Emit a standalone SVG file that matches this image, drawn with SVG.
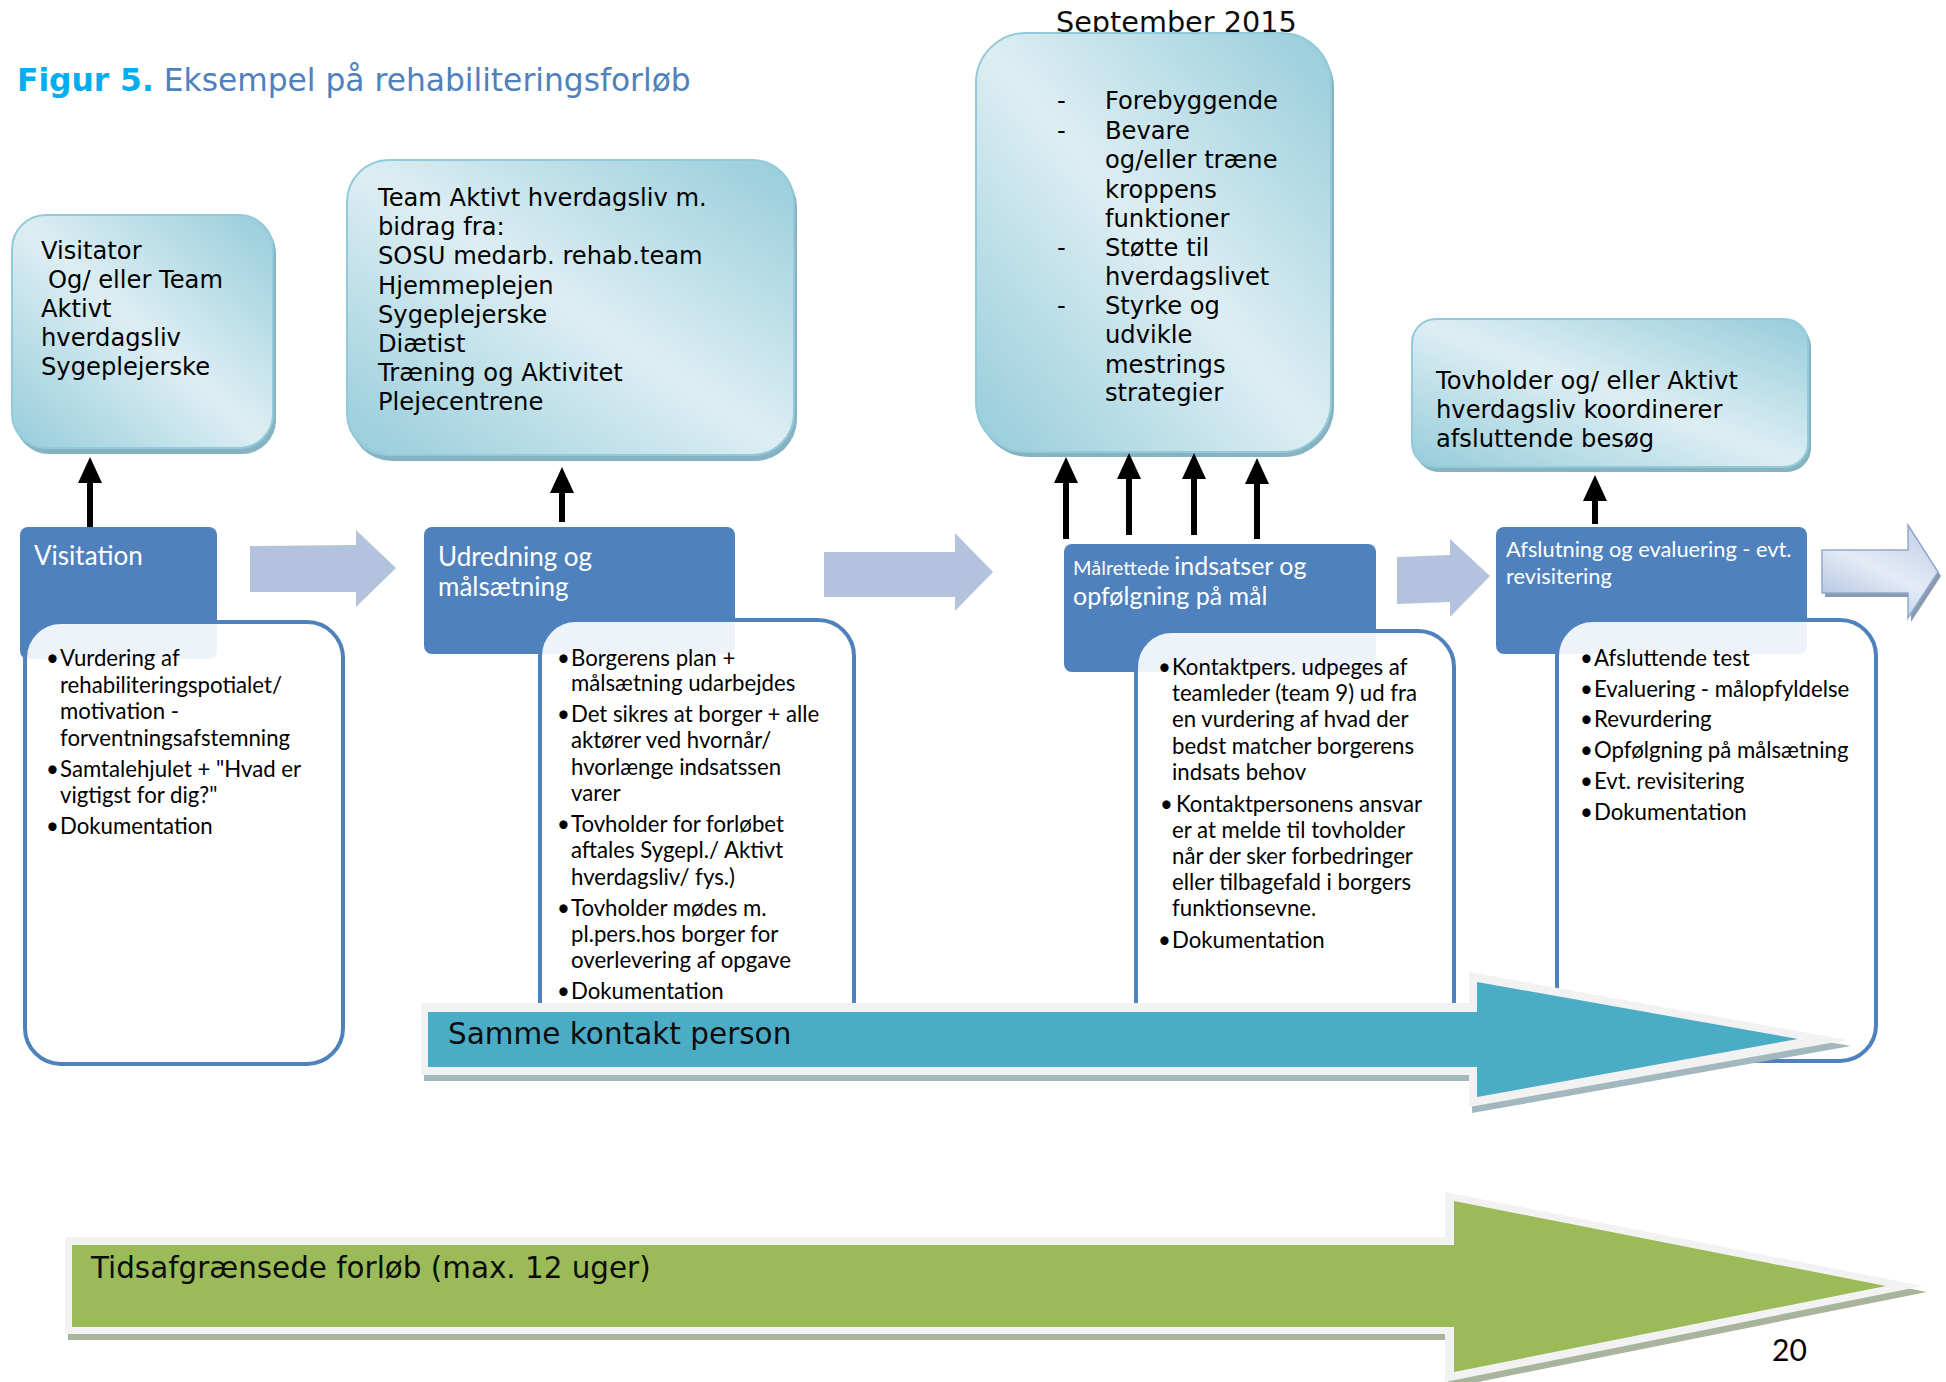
<svg xmlns="http://www.w3.org/2000/svg" width="1946" height="1382" viewBox="0 0 1946 1382">
<defs>
<style>
.callout{fill:url(#cg);stroke:#93CADA;stroke-width:2}
.cshadow{fill:#86B2C1}
.ct{font-family:"DejaVu Sans",Verdana,sans-serif;font-size:24.2px;fill:#000}
.hdr{fill:#4F81BD}
.ht{font-family:Lato,"Liberation Sans",sans-serif;font-size:26px;fill:#fff}
.box{fill:#fff;fill-opacity:.9;stroke:#4F81BD;stroke-width:4}
.bt{font-family:Lato,"Liberation Sans",sans-serif;font-size:22.2px;fill:#000}
.larr{fill:#B3C3DE}
.up{stroke:#000;stroke-width:6;fill:none;marker-end:url(#ah)}
.big{font-family:"DejaVu Sans",Verdana,sans-serif;fill:#0D0D0D}
</style>
<linearGradient id="cg" x1="1" y1="0" x2="0" y2="1">
<stop offset="0" stop-color="#96CCDB"/>
<stop offset="0.5" stop-color="#DDEEF3"/>
<stop offset="1" stop-color="#96CCDB"/>
</linearGradient>
<linearGradient id="ag" x1="0" y1="1" x2="0.6" y2="0">
<stop offset="0" stop-color="#A2B9DC"/>
<stop offset="0.6" stop-color="#E4EBF5"/>
<stop offset="1" stop-color="#C9D6EA"/>
</linearGradient>
<marker id="ah" markerUnits="userSpaceOnUse" viewBox="0 0 26 24" markerWidth="26" markerHeight="24" refX="10" refY="12" orient="auto">
<path d="M0,0 L26,12 L0,24 z" fill="#000"/>
</marker>
</defs>

<text x="17" y="91" font-family="'DejaVu Sans',Verdana,sans-serif" font-size="31.3"><tspan font-weight="bold" fill="#00AEEF">Figur 5.</tspan><tspan fill="#4F81BD"> Eksempel på rehabiliteringsforløb</tspan></text>

<text x="1056" y="32" class="big" font-size="28.7">September 2015</text>

<g id="visitator">
<rect class="cshadow" x="15" y="219" width="261" height="235" rx="34"/>
<rect class="callout" x="12" y="215" width="261" height="233" rx="34"/>
<text class="ct"><tspan x="41" y="259">Visitator</tspan><tspan x="48" y="288">Og/ eller Team</tspan><tspan x="41" y="317">Aktivt</tspan><tspan x="41" y="346">hverdagsliv</tspan><tspan x="41" y="375">Sygeplejerske</tspan></text>
</g>

<g id="team">
<rect class="cshadow" x="350" y="165" width="447" height="296" rx="42"/>
<rect class="callout" x="347" y="160" width="447" height="295" rx="42"/>
<text class="ct"><tspan x="378" y="206">Team Aktivt hverdagsliv m.</tspan><tspan x="378" y="235">bidrag fra:</tspan><tspan x="378" y="264">SOSU medarb. rehab.team</tspan><tspan x="378" y="294">Hjemmeplejen</tspan><tspan x="378" y="323">Sygeplejerske</tspan><tspan x="378" y="352">Diætist</tspan><tspan x="378" y="381">Træning og Aktivitet</tspan><tspan x="378" y="410">Plejecentrene</tspan></text>
</g>

<g id="indsats-maal">
<rect class="cshadow" x="979" y="38" width="355" height="419" rx="50"/>
<rect class="callout" x="976" y="33" width="355" height="419" rx="50"/>
<text class="ct"><tspan x="1057" y="109">-</tspan><tspan x="1105" y="109">Forebyggende</tspan><tspan x="1057" y="139">-</tspan><tspan x="1105" y="139">Bevare</tspan><tspan x="1105" y="168">og/eller træne</tspan><tspan x="1105" y="198">kroppens</tspan><tspan x="1105" y="227">funktioner</tspan><tspan x="1057" y="256">-</tspan><tspan x="1105" y="256">Støtte til</tspan><tspan x="1105" y="285">hverdagslivet</tspan><tspan x="1057" y="314">-</tspan><tspan x="1105" y="314">Styrke og</tspan><tspan x="1105" y="343">udvikle</tspan><tspan x="1105" y="373">mestrings</tspan><tspan x="1105" y="401">strategier</tspan></text>
</g>

<g id="tovholder">
<rect class="cshadow" x="1415" y="323" width="396" height="149" rx="24"/>
<rect class="callout" x="1412" y="319" width="396" height="148" rx="24"/>
<text class="ct"><tspan x="1436" y="389">Tovholder og/ eller Aktivt</tspan><tspan x="1436" y="418">hverdagsliv koordinerer</tspan><tspan x="1436" y="447">afsluttende besøg</tspan></text>
</g>

<g id="connectors">
<line class="up" x1="90" y1="527" x2="90" y2="473"/>
<line class="up" x1="562" y1="522" x2="562" y2="483"/>
<line class="up" x1="1066" y1="539" x2="1066" y2="473"/>
<line class="up" x1="1129" y1="535" x2="1129" y2="469"/>
<line class="up" x1="1194" y1="535" x2="1194" y2="469"/>
<line class="up" x1="1257" y1="539" x2="1257" y2="474"/>
<line class="up" x1="1595" y1="524" x2="1595" y2="491"/>
<polygon class="larr" points="250,546 356,545 356,530 396,568 356,607 356,592 250,592"/>
<polygon class="larr" points="824,552 955,552 955,533 993,572 955,611 955,597 824,597"/>
<polygon class="larr" points="1397,557 1450,555 1450,539 1490,576 1450,617 1450,602 1397,604"/>
<polygon fill="#8C9AAE" points="1825,554 1911,554 1911,529 1941,576 1911,622 1911,597 1825,597"/>
<polygon fill="url(#ag)" stroke="#8EA9D4" stroke-width="1.5" points="1822,550 1908,550 1908,525 1938,572 1908,618 1908,593 1822,593"/>
</g>

<g id="visitation">
<rect class="hdr" x="20" y="527" width="197" height="132" rx="8"/>
<text class="ht" x="34" y="565">Visitation</text>
<rect class="box" x="25" y="622" width="318" height="442" rx="36"/>
<text class="bt"><tspan x="46" y="666">•</tspan><tspan x="60" y="666">Vurdering af</tspan><tspan x="60" y="693">rehabiliteringspotialet/</tspan><tspan x="60" y="719">motivation -</tspan><tspan x="60" y="746">forventningsafstemning</tspan><tspan x="46" y="777">•</tspan><tspan x="60" y="777">Samtalehjulet + "Hvad er</tspan><tspan x="60" y="803">vigtigst for dig?"</tspan><tspan x="46" y="834">•</tspan><tspan x="60" y="834">Dokumentation</tspan></text>
</g>

<g id="udredning">
<rect class="hdr" x="424" y="527" width="311" height="127" rx="8"/>
<text class="ht"><tspan x="438" y="566">Udredning og</tspan><tspan x="438" y="596">målsætning</tspan></text>
<rect class="box" x="540" y="620" width="314" height="440" rx="36"/>
<text class="bt"><tspan x="557" y="666">•</tspan><tspan x="571" y="666">Borgerens plan +</tspan><tspan x="571" y="691">målsætning udarbejdes</tspan><tspan x="557" y="722">•</tspan><tspan x="571" y="722">Det sikres at borger + alle</tspan><tspan x="571" y="748">aktører ved hvornår/</tspan><tspan x="571" y="775">hvorlænge indsatssen</tspan><tspan x="571" y="801">varer</tspan><tspan x="557" y="832">•</tspan><tspan x="571" y="832">Tovholder for forløbet</tspan><tspan x="571" y="858">aftales Sygepl./ Aktivt</tspan><tspan x="571" y="885">hverdagsliv/ fys.)</tspan><tspan x="557" y="916">•</tspan><tspan x="571" y="916">Tovholder mødes m.</tspan><tspan x="571" y="942">pl.pers.hos borger for</tspan><tspan x="571" y="968">overlevering af opgave</tspan><tspan x="557" y="999">•</tspan><tspan x="571" y="999">Dokumentation</tspan></text>
</g>

<g id="maalrettede">
<rect class="hdr" x="1064" y="544" width="312" height="128" rx="8"/>
<text class="ht"><tspan x="1073" y="575" font-size="20">Målrettede </tspan><tspan font-size="25">indsatser og</tspan><tspan x="1073" y="605" font-size="25">opfølgning på mål</tspan></text>
<rect class="box" x="1136" y="631" width="318" height="429" rx="36"/>
<text class="bt"><tspan x="1158" y="675">•</tspan><tspan x="1172" y="675">Kontaktpers. udpeges af</tspan><tspan x="1172" y="701">teamleder (team 9) ud fra</tspan><tspan x="1172" y="727">en vurdering af hvad der</tspan><tspan x="1172" y="754">bedst matcher borgerens</tspan><tspan x="1172" y="780">indsats behov</tspan><tspan x="1160" y="812">•</tspan><tspan x="1176" y="812">Kontaktpersonens ansvar</tspan><tspan x="1172" y="838">er at melde til tovholder</tspan><tspan x="1172" y="864">når der sker forbedringer</tspan><tspan x="1172" y="890">eller tilbagefald i borgers</tspan><tspan x="1172" y="916">funktionsevne.</tspan><tspan x="1158" y="948">•</tspan><tspan x="1172" y="948">Dokumentation</tspan></text>
</g>

<g id="afslutning">
<rect class="hdr" x="1496" y="527" width="311" height="127" rx="8"/>
<text class="ht"><tspan x="1506" y="557" font-size="21.8">Afslutning og evaluering - evt.</tspan><tspan x="1506" y="584" font-size="21.8">revisitering</tspan></text>
<rect class="box" x="1557" y="620" width="319" height="441" rx="36"/>
<text class="bt"><tspan x="1580" y="666">•</tspan><tspan x="1594" y="666">Afsluttende test</tspan><tspan x="1580" y="697">•</tspan><tspan x="1594" y="697">Evaluering - målopfyldelse</tspan><tspan x="1580" y="727">•</tspan><tspan x="1594" y="727">Revurdering</tspan><tspan x="1580" y="758">•</tspan><tspan x="1594" y="758">Opfølgning på målsætning</tspan><tspan x="1580" y="789">•</tspan><tspan x="1594" y="789">Evt. revisitering</tspan><tspan x="1580" y="820">•</tspan><tspan x="1594" y="820">Dokumentation</tspan></text>
</g>

<g id="samme-kontakt-person">
<polygon fill="#A3B7BE" points="424,1009 1472,1009 1472,978 1851,1046 1472,1113 1472,1081 424,1081"/>
<polygon fill="#F2F2F2" points="421,1003 1469,1003 1469,972 1847,1040 1469,1107 1469,1075 421,1075"/>
<polygon fill="#4BACC6" points="428,1012 1477,1012 1477,982 1798,1039 1477,1097 1477,1067 428,1067"/>
<text class="big" x="448" y="1044" font-size="29.5">Samme kontakt person</text>
</g>

<g id="tidsafgraensede-forloeb">
<polygon fill="#A8B49B" points="68,1243 1448,1243 1448,1198 1927,1292 1448,1388 1448,1340 68,1340"/>
<polygon fill="#F2F2F2" points="65,1237 1445,1237 1445,1192 1923,1286 1445,1382 1445,1334 65,1334"/>
<polygon fill="#9BBB59" points="72,1245 1454,1245 1454,1201 1886,1286 1454,1372 1454,1327 72,1327"/>
<text class="big" x="91" y="1278" font-size="29.4">Tidsafgrænsede forløb (max. 12 uger)</text>
</g>

<text x="1772" y="1361" font-family="Lato,'Liberation Sans',sans-serif" font-size="30" fill="#000">20</text>
</svg>
